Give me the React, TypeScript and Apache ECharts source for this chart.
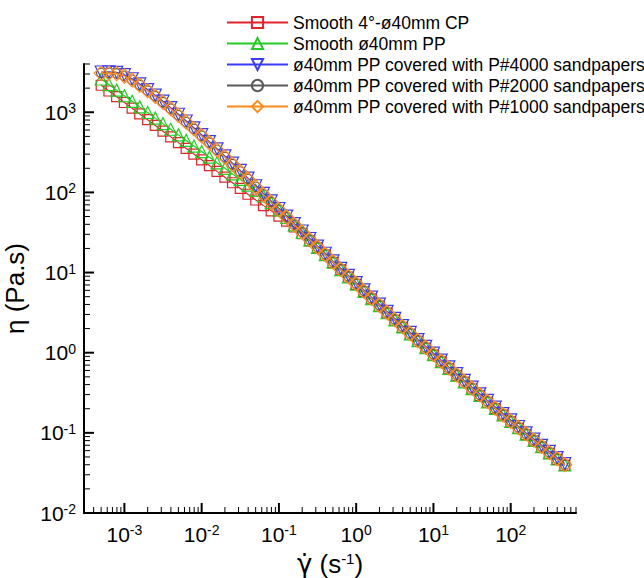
import React, { useEffect, useRef } from "react";
import * as echarts from "echarts";

// Shear rate (1/s)
const shearRate = [
  0.000501, 0.000631, 0.000794, 0.001, 0.00126, 0.00158, 0.002, 0.00251, 0.00316, 0.00398,
  0.00501, 0.00631, 0.00794, 0.01, 0.0126, 0.0158, 0.02, 0.0251, 0.0316, 0.0398,
  0.0501, 0.0631, 0.0794, 0.1, 0.126, 0.158, 0.2, 0.251, 0.316, 0.398,
  0.501, 0.631, 0.794, 1, 1.26, 1.58, 2, 2.51, 3.16, 3.98,
  5.01, 6.31, 7.94, 10, 12.6, 15.8, 20, 25.1, 31.6, 39.8,
  50.1, 63.1, 79.4, 100, 126, 158, 200, 251, 316, 398, 501,
];

// Viscosity (Pa.s)
const etaCP = [
  2173, 1841, 1563, 1324, 1125, 953, 807, 685, 581, 493,
  418, 354, 301, 255, 216, 183, 155, 132, 112, 94.8,
  80.4, 68.4, 58.9, 50.7, 43.7, 37.0, 30.5, 24.9, 20.3, 16.5,
  13.3, 10.8, 8.75, 7.10, 5.77, 4.69, 3.82, 3.11, 2.54, 2.07,
  1.70, 1.39, 1.14, 0.936, 0.767, 0.631, 0.519, 0.428, 0.352, 0.291,
  0.241, 0.200, 0.166, 0.137, 0.114, 0.0953, 0.0794, 0.0664, 0.0556, 0.0467, 0.0393,
];
const etaPP = [
  2600, 2213, 1888, 1607, 1368, 1167, 993, 845, 720, 614,
  522, 445, 379, 323, 275, 234, 200, 170, 145, 123,
  106, 90.2, 74.5, 60.5, 48.8, 39.3, 31.6, 25.5, 20.6, 16.7,
  13.5, 10.9, 8.85, 7.18, 5.83, 4.74, 3.86, 3.15, 2.57, 2.10,
  1.72, 1.41, 1.153, 0.946, 0.776, 0.638, 0.525, 0.433, 0.356, 0.294,
  0.244, 0.202, 0.168, 0.139, 0.116, 0.0964, 0.0804, 0.0671, 0.0562, 0.0472, 0.0397,
];
const etaP4000 = [
  3180, 3200, 3150, 2940, 2620, 2255, 1920, 1635, 1375, 1143,
  944, 778, 640, 525, 430, 350, 286, 232, 188, 151,
  121, 97.3, 78.2, 63.0, 50.7, 40.8, 33.0, 26.6, 21.4, 17.4,
  14.0, 11.3, 9.22, 7.48, 6.08, 4.94, 4.03, 3.28, 2.68, 2.18,
  1.79, 1.46, 1.20, 0.986, 0.809, 0.665, 0.547, 0.451, 0.372, 0.307,
  0.254, 0.210, 0.174, 0.145, 0.120, 0.100, 0.0837, 0.0699, 0.0586, 0.0492, 0.0414,
];
const etaP2000 = [
  3090, 3105, 3055, 2851, 2541, 2188, 1862, 1585, 1334, 1109,
  916, 755, 621, 509, 417, 340, 277, 225, 182, 147,
  117.5, 94.4, 75.9, 61.1, 49.2, 39.6, 32.0, 25.8, 20.8, 16.9,
  13.6, 11.0, 8.95, 7.26, 5.90, 4.80, 3.91, 3.18, 2.60, 2.12,
  1.74, 1.42, 1.167, 0.957, 0.785, 0.646, 0.531, 0.438, 0.361, 0.298,
  0.247, 0.204, 0.169, 0.141, 0.117, 0.0975, 0.0813, 0.0679, 0.0569, 0.0478, 0.0402,
];
const etaP1000 = [
  3060, 3080, 3030, 2830, 2525, 2178, 1855, 1580, 1330, 1106,
  914, 753, 620, 508, 416, 339, 276, 224, 181, 146,
  117, 94.0, 75.6, 60.9, 49.0, 39.5, 31.9, 25.7, 20.7, 16.8,
  13.55, 10.95, 8.92, 7.24, 5.88, 4.79, 3.90, 3.17, 2.59, 2.11,
  1.73, 1.415, 1.163, 0.954, 0.783, 0.644, 0.529, 0.437, 0.360, 0.297,
  0.246, 0.203, 0.168, 0.140, 0.1165, 0.0971, 0.081, 0.0677, 0.0567, 0.0476, 0.0400,
];

const seriesNames = [
  "Smooth 4°-ø40mm CP",
  "Smooth ø40mm PP",
  "ø40mm PP covered with P#4000 sandpapers",
  "ø40mm PP covered with P#2000 sandpapers",
  "ø40mm PP covered with P#1000 sandpapers",
];
const seriesColors = ["#e3222b", "#22cc22", "#3b3bff", "#5a5a5a", "#ff8a1c"];

// Axis ranges and decade ticks
const xMin = 0.0003;
const xMax = 700;
const yMin = 0.01;
const yMax = 4000;
const xDecades = [0.001, 0.01, 0.1, 1, 10, 100];
const yDecades = [0.01, 0.1, 1, 10, 100, 1000];

const FONT = 'Arial, "Liberation Sans", Helvetica, sans-serif';

function minorTicks(lo: number, hi: number): number[] {
  const out: number[] = [];
  const e0 = Math.floor(Math.log10(lo));
  const e1 = Math.ceil(Math.log10(hi));
  for (let e = e0; e <= e1; e++) {
    for (let m = 2; m <= 9; m++) {
      const v = m * Math.pow(10, e);
      if (v >= lo * 0.9999 && v <= hi * 1.0001) out.push(v);
    }
  }
  return out;
}

function decadeLabel(v: number): string {
  const e = Math.log10(v);
  const r = Math.round(e);
  if (Math.abs(e - r) > 1e-6) return "";
  return `{b|10}{s|${r}}`;
}

const labelRich = {
  b: { fontSize: 21, fontFamily: FONT, color: "#000", lineHeight: 22 },
  s: { fontSize: 14, fontFamily: FONT, color: "#000", lineHeight: 12, verticalAlign: "top" },
};

function tickSeries(values: number[], axis: "x" | "y", len: number, width: number) {
  return {
    type: "custom",
    coordinateSystem: "cartesian2d",
    silent: true,
    z: 10,
    clip: false,
    data: values.map((v) => (axis === "x" ? [v, yMin] : [xMin, v])),
    renderItem: (params: any, api: any) => {
      const p = api.coord([api.value(0), api.value(1)]);
      const shape =
        axis === "x"
          ? { x1: p[0], y1: p[1], x2: p[0], y2: p[1] - len }
          : { x1: p[0], y1: p[1], x2: p[0] + len, y2: p[1] };
      return { type: "line", shape, style: { stroke: "#000", lineWidth: width } };
    },
  };
}

export default function App() {
  const ref = useRef<HTMLDivElement>(null);
  useEffect(() => {
    if (!ref.current) return;
    const chart = echarts.init(ref.current, null, { renderer: "svg" });
    const symbols = ["rect", "triangle", "triangle", "circle", "diamond"];
    const sizes = [10, 12, 12, 9.5, 14];
    const rotates = [0, 0, 180, 0, 0];
    const allEta = [etaCP, etaPP, etaP4000, etaP2000, etaP1000];
    const lineSeries = allEta.map((vals, i) => ({
      type: "line",
      name: seriesNames[i],
      data: shearRate.map((x, j) => [x, vals[j]]),
      symbol: symbols[i],
      symbolSize: sizes[i],
      symbolRotate: rotates[i],
      showAllSymbol: true,
      lineStyle: { color: seriesColors[i], width: 1.2 },
      itemStyle: { color: "rgba(255,255,255,0)", borderColor: seriesColors[i], borderWidth: 1.2 },
      z: 2 + i,
    }));
    chart.setOption({
      animation: false,
      backgroundColor: "#fff",
      grid: {
        left: 84,
        top: 64,
        width: 492,
        height: 449,
        containLabel: false,
        outerBoundsMode: "none",
      },
      legend: {
        orient: "vertical",
        left: 226,
        top: 12,
        padding: 0,
        itemWidth: 61,
        itemHeight: 14,
        itemGap: 0,
        selectedMode: false,
        data: seriesNames,
        textStyle: { fontSize: 17.5, fontFamily: FONT, color: "#000", lineHeight: 21 },
      },
      xAxis: {
        type: "log",
        logBase: 10,
        min: xMin,
        max: xMax,
        name: "{g|γ̇}{a| (s}{s|-1}{a|)}",
        nameLocation: "middle",
        nameGap: 38,
        nameTextStyle: {
          rich: {
            g: { fontSize: 26, fontFamily: '"DejaVu Sans", sans-serif', color: "#000", lineHeight: 26 },
            a: { fontSize: 26, fontFamily: FONT, color: "#000", lineHeight: 26 },
            s: { fontSize: 15, fontFamily: FONT, color: "#000", lineHeight: 14, verticalAlign: "top" },
          },
        },
        axisLine: { show: true, lineStyle: { color: "#000", width: 2 } },
        axisTick: { show: false },
        minorTick: { show: false },
        splitLine: { show: false },
        axisLabel: { formatter: decadeLabel, rich: labelRich, margin: 10, hideOverlap: false },
      },
      yAxis: {
        type: "log",
        logBase: 10,
        min: yMin,
        max: yMax,
        name: "η (Pa.s)",
        nameLocation: "middle",
        nameGap: 40,
        nameRotate: 90,
        nameTextStyle: { fontSize: 26, fontFamily: FONT, color: "#000", lineHeight: 28 },
        axisLine: { show: true, lineStyle: { color: "#000", width: 2 } },
        axisTick: { show: false },
        minorTick: { show: false },
        splitLine: { show: false },
        axisLabel: { formatter: decadeLabel, rich: labelRich, margin: 8, hideOverlap: false },
      },
      series: [
        ...lineSeries,
        tickSeries(xDecades, "x", 10, 2),
        tickSeries(minorTicks(xMin, xMax), "x", 6, 1),
        tickSeries(yDecades, "y", 10, 2),
        tickSeries(minorTicks(yMin, yMax), "y", 6, 1),
      ],
    });
    return () => chart.dispose();
  }, []);
  return (
    <div
      ref={ref}
      style={{ position: "fixed", left: 0, top: 0, width: 644, height: 578, background: "#fff" }}
    />
  );
}
